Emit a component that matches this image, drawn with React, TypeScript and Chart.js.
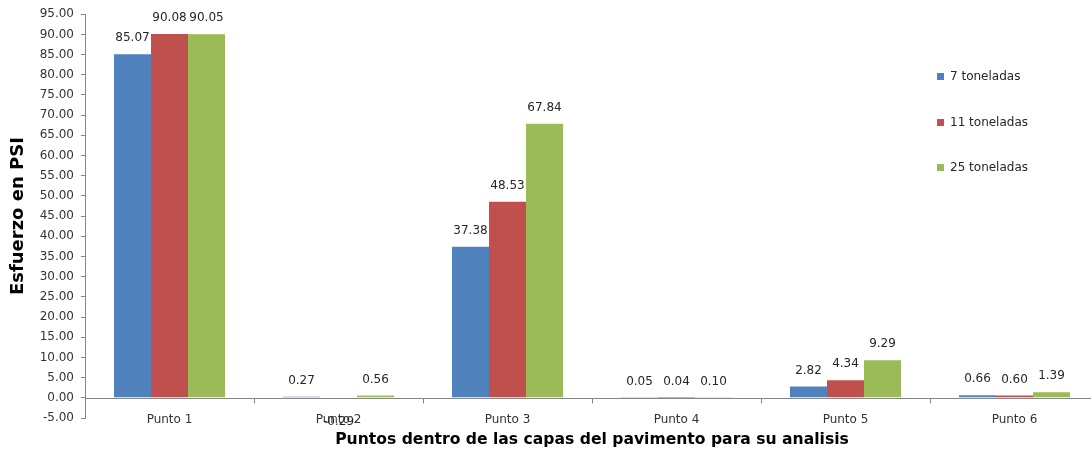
import React, { useEffect, useRef } from "react";
import { Chart, registerables } from "chart.js";

Chart.register(...registerables);

const categories = ["Punto 1", "Punto 2", "Punto 3", "Punto 4", "Punto 5", "Punto 6"];
const seriesNames = ["7 toneladas", "11 toneladas", "25 toneladas"];
const tons7 = [85.07, 0.27, 37.38, 0.05, 2.82, 0.66];
const tons11 = [90.08, -0.29, 48.53, 0.04, 4.34, 0.6];
const tons25 = [90.05, 0.56, 67.84, 0.1, 9.29, 1.39];
const seriesColors = ["#4F81BD", "#C0504D", "#9BBB59"];
const yMin = -5;
const yMax = 95;
const yStep = 5;
const xTitle = "Puntos dentro de las capas del pavimento para su analisis";
const yTitle = "Esfuerzo en PSI";

const FONT = "'DejaVu Sans', Verdana, sans-serif";

const zeroAxisPlugin = {
  id: "zeroAxis",
  afterDatasetsDraw(chart: any) {
    const { ctx, chartArea, scales } = chart;
    const y0 = Math.round(scales.y.getPixelForValue(0)) + 0.5;
    ctx.save();
    ctx.strokeStyle = "#868686";
    ctx.lineWidth = 1;
    ctx.beginPath();
    ctx.moveTo(chartArea.left, y0);
    ctx.lineTo(chartArea.right, y0);
    for (let i = 0; i <= categories.length; i++) {
      const x = Math.round(scales.x.getPixelForValue(i - 0.5)) + 0.5;
      ctx.moveTo(x, y0);
      ctx.lineTo(x, y0 + 5);
    }
    ctx.stroke();
    // category labels, placed by the x scale
    ctx.font = `12px ${FONT}`;
    ctx.fillStyle = "#333";
    ctx.textAlign = "center";
    ctx.textBaseline = "middle";
    chart.data.labels.forEach((lab: string, i: number) => {
      ctx.fillText(lab, scales.x.getPixelForValue(i), y0 + 21);
    });
    ctx.restore();
  },
};

const dataLabelPlugin = {
  id: "dataLabels",
  afterDatasetsDraw(chart: any) {
    const { ctx } = chart;
    ctx.save();
    ctx.font = `12px ${FONT}`;
    ctx.fillStyle = "#262626";
    ctx.textAlign = "center";
    ctx.textBaseline = "middle";
    chart.data.datasets.forEach((ds: any, di: number) => {
      const meta = chart.getDatasetMeta(di);
      meta.data.forEach((el: any, i: number) => {
        const v = ds.data[i];
        const y = v >= 0 ? el.y - 16 : el.y + 23;
        ctx.fillText(v.toFixed(2), el.x, y);
      });
    });
    ctx.restore();
  },
};

const legendPlugin = {
  id: "customLegend",
  afterDraw(chart: any) {
    const { ctx } = chart;
    const x = 937;
    const ys = [77, 123, 168];
    ctx.save();
    ctx.font = `12px ${FONT}`;
    ctx.textAlign = "left";
    ctx.textBaseline = "middle";
    chart.data.datasets.forEach((ds: any, i: number) => {
      ctx.fillStyle = ds.backgroundColor;
      ctx.fillRect(x, ys[i] - 4, 7, 7);
      ctx.fillStyle = "#262626";
      ctx.fillText(ds.label, x + 13, ys[i]);
    });
    ctx.restore();
  },
};

export default function App() {
  const canvasRef = useRef<HTMLCanvasElement | null>(null);

  useEffect(() => {
    if (!canvasRef.current) return;
    const seriesValues = [tons7, tons11, tons25];
    const chart = new Chart(canvasRef.current, {
      type: "bar",
      data: {
        labels: categories,
        datasets: seriesNames.map((name, i) => ({
          label: name,
          data: seriesValues[i],
          backgroundColor: seriesColors[i],
          borderWidth: 0,
          categoryPercentage: 0.657,
          barPercentage: 1,
        })),
      },
      options: {
        animation: false,
        responsive: false,
        maintainAspectRatio: false,
        layout: { padding: { top: 14, right: 21, left: 0, bottom: 0 } },
        plugins: {
          legend: { display: false },
          tooltip: { enabled: false },
        },
        scales: {
          x: {
            grid: { display: false, drawTicks: false },
            border: { display: false },
            ticks: { display: false },
            title: {
              display: true,
              text: xTitle,
              color: "#000",
              font: { family: FONT, size: 15.6, weight: "bold" },
              padding: { top: 0, bottom: 10 },
            },
            afterFit(scale: any) {
              scale.height = 41;
            },
          },
          y: {
            min: yMin,
            max: yMax,
            grid: {
              display: true,
              drawOnChartArea: false,
              drawTicks: true,
              tickLength: 4,
              color: "#868686",
            },
            border: { display: true, color: "#868686" },
            ticks: {
              stepSize: yStep,
              padding: 7,
              color: "#333",
              font: { family: FONT, size: 12 },
              callback: (v: any) => Number(v).toFixed(2),
            },
            title: {
              display: true,
              text: yTitle,
              color: "#000",
              font: { family: FONT, size: 18, weight: "bold" },
              padding: { top: 8, bottom: 0 },
            },
            afterFit(scale: any) {
              scale.width = 85;
            },
          },
        },
      },
      plugins: [zeroAxisPlugin, dataLabelPlugin, legendPlugin],
    });
    return () => chart.destroy();
  }, []);

  return (
    <div
      style={{
        position: "absolute",
        left: 0,
        top: 0,
        width: 1091,
        height: 459,
        overflow: "hidden",
        background: "#fff",
      }}
    >
      <canvas ref={canvasRef} width={1120} height={459} style={{ width: 1120, height: 459, display: "block" }} />
    </div>
  );
}
